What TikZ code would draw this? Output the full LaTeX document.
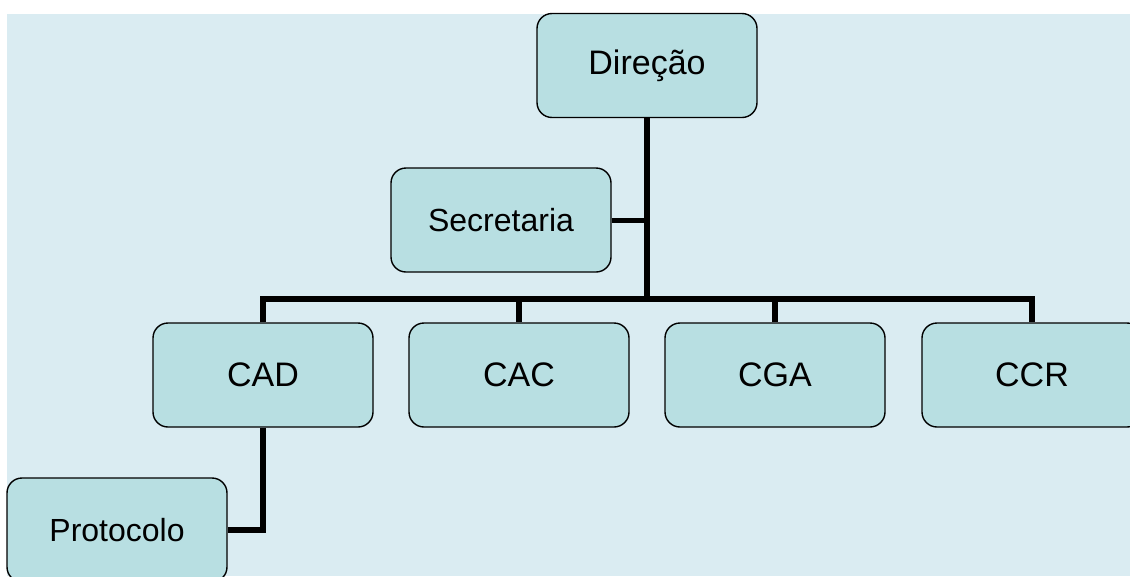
\documentclass[tikz,border=0pt]{standalone}
\usepackage{fontspec}
\setmainfont{Liberation Sans}
\definecolor{bgblue}{HTML}{DAECF2}
\definecolor{boxfill}{HTML}{B8DFE2}
\newcommand{\lowered}[1]{\raisebox{-3pt}{#1}}
\tikzset{
  orgbox/.style={draw=black, line width=1.4pt, fill=boxfill, rounded corners=15pt,
    minimum width=220pt, minimum height=104pt, inner sep=0pt, font=\fontsize{34}{40}\selectfont},
  smallbox/.style={orgbox, font=\fontsize{32}{38}\selectfont},
  conn/.style={draw=black, line width=6pt}
}
\begin{document}
\begin{tikzpicture}[x=1pt,y=-1pt]
\useasboundingbox (0,0) rectangle (1130,576);
\clip (0,0) rectangle (1130,576);
\fill[white] (0,0) rectangle (1130,576);
\fill[bgblue] (7,14) rectangle (1130,576);
\node[orgbox] (dir) at (647,65.5) {\lowered{Direção}};
\node[smallbox] (sec) at (501,220) {\lowered{Secretaria}};
\node[orgbox] (cad) at (263,375) {\lowered{CAD}};
\node[orgbox] (cac) at (519,375) {\lowered{CAC}};
\node[orgbox] (cga) at (775,375) {\lowered{CGA}};
\node[orgbox] (ccr) at (1032,375) {\lowered{CCR}};
\node[smallbox] (prot) at (117,530) {\lowered{Protocolo}};
\coordinate (busL) at (263,299);
\coordinate (busR) at (1032,299);
\draw[conn] (cad.north) -- (busL) -- (busR) -- (ccr.north);
\draw[conn] (dir.south) -- (dir.south |- busL);
\draw[conn] (cac.north) -- (cac.north |- busL);
\draw[conn] (cga.north) -- (cga.north |- busL);
\draw[conn, line width=5pt] (sec.east) -- (sec.east -| dir.south);
\draw[conn] (cad.south) |- (prot.east);
\end{tikzpicture}
\end{document}
